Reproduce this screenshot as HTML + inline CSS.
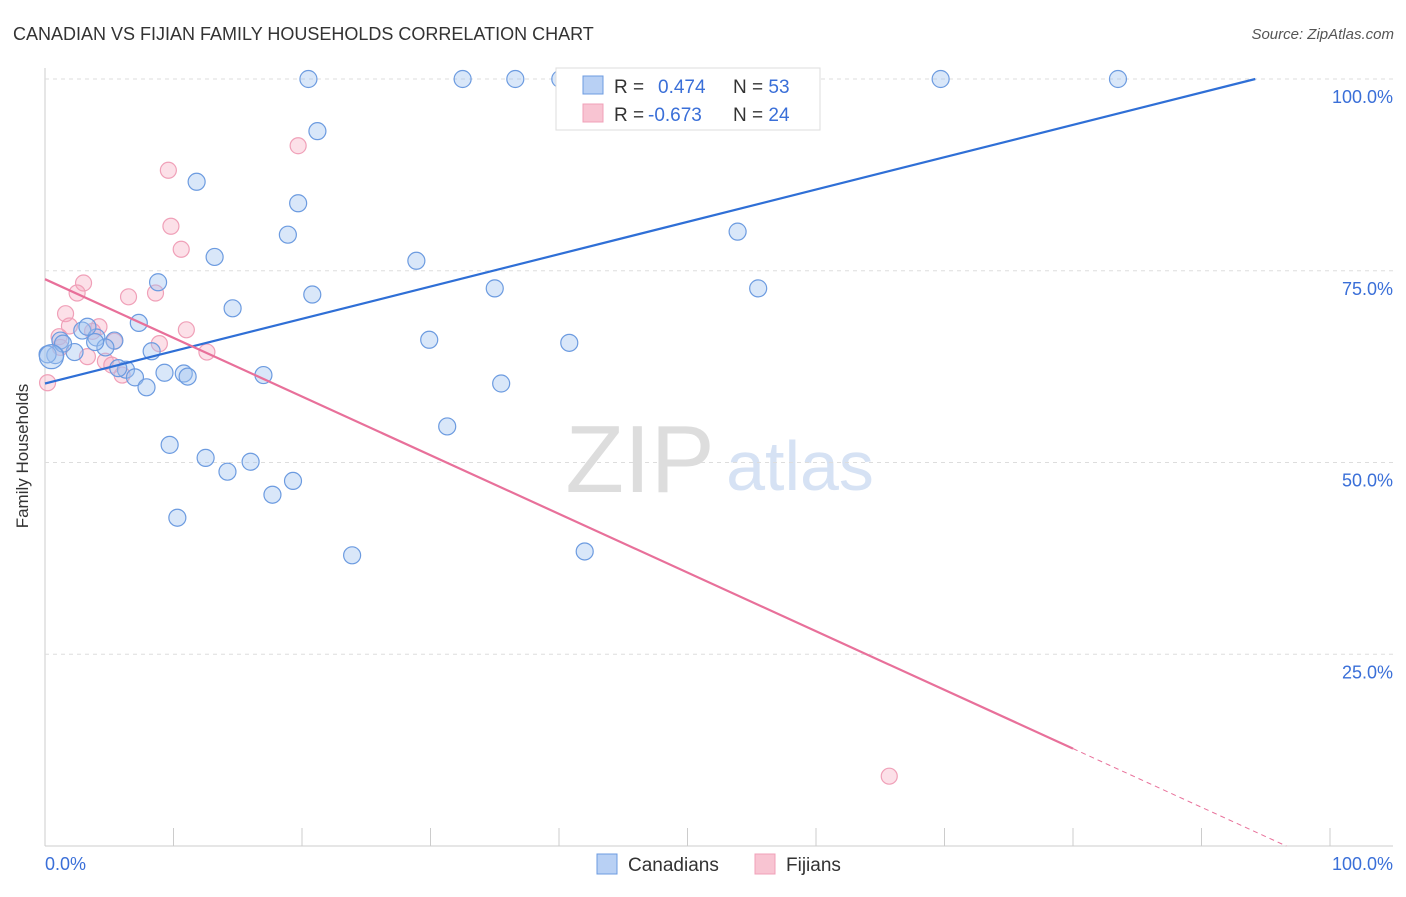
<!DOCTYPE html>
<html><head><meta charset="utf-8"><style>
body{margin:0;background:#fff;font-family:"Liberation Sans",sans-serif}
svg text{font-family:"Liberation Sans",sans-serif}
</style></head><body>
<svg id="c" width="1406" height="892">
<text x="13" y="40" font-size="18" fill="#333">CANADIAN VS FIJIAN FAMILY HOUSEHOLDS CORRELATION CHART</text>
<text x="1394" y="39" font-size="15" fill="#555" text-anchor="end" font-style="italic">Source: ZipAtlas.com</text>
<text x="28" y="456" font-size="17" fill="#333" text-anchor="middle" transform="rotate(-90 28 456)">Family Households</text>
<text x="640" y="492" font-size="96" fill="#ddd" text-anchor="middle" font-family="Liberation Serif">ZIP</text>
<text x="800" y="490" font-size="70" fill="#d6e2f4" text-anchor="middle">atlas</text>
<g id="grid"></g><g id="pts"></g><g id="lines"></g>
<g>
<rect x="556" y="68" width="264" height="62" fill="#fff" stroke="#ddd"/>
<rect x="583" y="76" width="20" height="18" fill="#b8d0f4" stroke="#6c9be0"/>
<rect x="583" y="104" width="20" height="18" fill="#f8c4d2" stroke="#f0a0b8"/>
<text x="614" y="93" font-size="19" fill="#333">R = <tspan fill="#3a6fd8" x="658">0.474</tspan><tspan fill="#333" x="733">N = </tspan><tspan fill="#3a6fd8">53</tspan></text>
<text x="614" y="121" font-size="19" fill="#333">R = <tspan fill="#3a6fd8" x="648">-0.673</tspan><tspan fill="#333" x="733">N = </tspan><tspan fill="#3a6fd8">24</tspan></text>
</g>
<g>
<rect x="597" y="854" width="20" height="20" fill="#b8d0f4" stroke="#6c9be0"/>
<text x="628" y="871" font-size="19" fill="#333">Canadians</text>
<rect x="755" y="854" width="20" height="20" fill="#f8c4d2" stroke="#f0a0b8"/>
<text x="786" y="871" font-size="19" fill="#333">Fijians</text>
</g>
</svg>
<script>
const xTicks=[0,10,20,30,40,50,60,70,80,90,100];
const yTicks=[25,50,75,100];
const blueX=[20.5,32.5,36.6,40.1,69.7,83.5,21.2,11.8,19.7,18.9,53.9,13.2,28.9,8.8,20.8,35,55.5,14.6,7.3,2.9,1.2,4.0,5.4,29.9,40.8,4.7,2.3,8.3,0.8,0.2,9.3,10.8,6.3,11.1,17,7,7.9,35.5,31.3,9.7,12.5,16,14.2,19.3,17.7,10.3,23.9,42,3.9,5.7,1.4,0.5,3.3];
const blueY=[100,100,100,100,100,100,93.2,86.6,83.8,79.7,80.1,76.8,76.3,73.5,71.9,72.7,72.7,70.1,68.2,67.2,65.9,66.3,65.9,66,65.6,65,64.4,64.5,64,64.1,61.7,61.6,62.1,61.2,61.4,61.1,59.8,60.3,54.7,52.3,50.6,50.1,48.8,47.6,45.8,42.8,37.9,38.4,65.7,62.3,65.5,63.8,67.7];
const pinkX=[19.7,9.6,9.8,10.6,3,2.5,8.6,6.5,1.6,1.9,4.2,11,1.1,3.7,5.4,8.9,12.6,3.3,4.7,5.2,6,0.2,65.7,1.2];
const pinkY=[91.3,88.1,80.8,77.8,73.4,72.1,72.1,71.6,69.4,67.8,67.7,67.3,66.4,67.1,65.8,65.5,64.4,63.8,63.2,62.7,61.4,60.4,9.1,65];
const blueFit=[60.3,0.4215]; // intercept, slope
const pinkFit=[73.9,-0.765];
const X=v=>45+v*12.85, Y=v=>846-v*7.67;
const NS='http://www.w3.org/2000/svg';
function mk(t,a,p){const e=document.createElementNS(NS,t);for(const k in a)e.setAttribute(k,a[k]);p.appendChild(e);return e;}
const g=document.getElementById('grid');
let ax=mk('line',{x1:45,y1:68,x2:45,y2:846,stroke:'#ccc'},g);


let bx=mk('line',{x1:45,y1:846,x2:1393,y2:846,stroke:'#ccc'},g);


yTicks.forEach(t=>{const l=mk('line',{x1:45,x2:1393,y1:Y(t),y2:Y(t),stroke:'#ddd','stroke-dasharray':'4,4'},g);


const tx=mk('text',{x:1393,y:Y(t)+24,'font-size':18,fill:'#3a6fd8','text-anchor':'end'},g);tx.textContent=t.toFixed(1)+'%';

});
xTicks.forEach(t=>{const l=mk('line',{x1:X(t),x2:X(t),y1:828,y2:846,stroke:'#ccc'},g);

});
[[0,'start',45],[100,'end',1393]].forEach(([v,a,x])=>{const tx=mk('text',{x:x,y:870,'font-size':18,fill:'#3a6fd8','text-anchor':a},g);tx.textContent=v.toFixed(1)+'%';

});
const p=document.getElementById('pts');
pinkX.forEach((v,i)=>{const c=mk('circle',{cx:X(v),cy:Y(pinkY[i]),r:8,fill:'rgba(245,165,190,0.35)',stroke:'#f0a0b8','stroke-width':1.2},p);

});
blueX.forEach((v,i)=>{const c=mk('circle',{cx:X(v),cy:Y(blueY[i]),r:i==51?12:8.5,fill:'rgba(160,195,240,0.4)',stroke:'#6c9be0','stroke-width':1.2},p);

});
const L=document.getElementById('lines');
const bEnd=(100-blueFit[0])/blueFit[1];
let bl=mk('line',{x1:X(0),y1:Y(blueFit[0]),x2:X(bEnd),y2:Y(100),stroke:'#2f6fd6','stroke-width':2.2},L);


const pz=-pinkFit[0]/pinkFit[1], ps=80;
let pl=mk('line',{x1:X(0),y1:Y(pinkFit[0]),x2:X(ps),y2:Y(pinkFit[0]+pinkFit[1]*ps),stroke:'#e8709a','stroke-width':2.2},L);


let pd=mk('line',{x1:X(ps),y1:Y(pinkFit[0]+pinkFit[1]*ps),x2:X(pz),y2:Y(0),stroke:'#e8709a','stroke-width':1,'stroke-dasharray':'5,4'},L);


</script>
</body></html>
